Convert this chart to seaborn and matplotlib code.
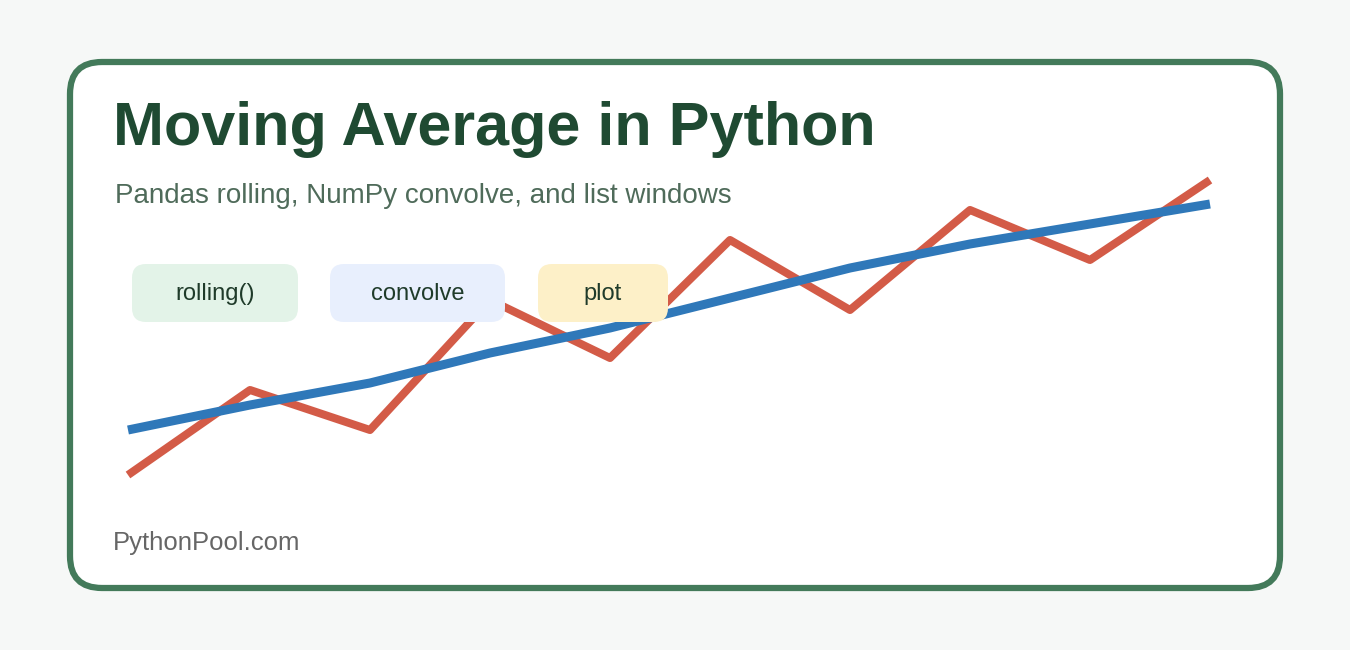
import matplotlib
matplotlib.use("Agg")
import matplotlib.pyplot as plt
import seaborn as sns
import pandas as pd
from matplotlib.patches import FancyBboxPatch

# data (pixel-space illustration coordinates)
x_pts = [128, 250, 370, 490, 610, 730, 850, 970, 1090, 1210]
raw_vals = [475, 390, 430, 300, 358, 240, 310, 210, 260, 180]
avg_vals = [430, 405, 383, 353, 328, 298, 268, 244, 224, 204]
pill_labels = ["rolling()", "convolve", "plot"]
title = "Moving Average in Python"
subtitle = "Pandas rolling, NumPy convolve, and list windows"
footer = "PythonPool.com"

sns.set_style("white")
plt.rcParams['font.family'] = ['Liberation Sans', 'DejaVu Sans']

fig = plt.figure(figsize=(13.5, 6.5), dpi=100)
fig.patch.set_facecolor("#f6f8f7")
ax = fig.add_axes([0, 0, 1, 1])
ax.set_xlim(0, 1350); ax.set_ylim(650, 0); ax.axis("off")

ax.add_patch(FancyBboxPatch((70, 62), 1210, 526, boxstyle="round,pad=0,rounding_size=32",
                            fc="white", ec="#437a5a", lw=4.5, zorder=1))

df = pd.DataFrame({"x": x_pts, "raw": raw_vals, "avg": avg_vals})
sns.lineplot(data=df, x="x", y="raw", ax=ax, color="#d35b47", lw=5.8, zorder=2,
             solid_capstyle="butt")
sns.lineplot(data=df, x="x", y="avg", ax=ax, color="#2f78b9", lw=6.5, zorder=3,
             solid_capstyle="butt")
ax.set_xlim(0, 1350); ax.set_ylim(650, 0); ax.axis("off")

pills = [(132, 166, "#e3f3e8"), (330, 175, "#e8effd"), (538, 130, "#fdf0c8")]
for (px, pw, c), lab in zip(pills, pill_labels):
    ax.add_patch(FancyBboxPatch((px, 264), pw, 58, boxstyle="round,pad=0,rounding_size=14",
                                fc=c, ec="none", zorder=4))
    ax.text(px + pw / 2, 294, lab, ha="center", va="center", fontsize=17,
            color="#1f3b2a", zorder=5)

ax.text(113, 130, title, ha="left", va="center", fontsize=44, fontweight="bold",
        color="#1f4a32", zorder=5)
ax.text(115, 196, subtitle, ha="left", va="center", fontsize=20, color="#4f6b5a", zorder=5)
ax.text(113, 543, footer, ha="left", va="center", fontsize=18.5, color="#666666", zorder=5)

fig.savefig("out.png", dpi=100)
